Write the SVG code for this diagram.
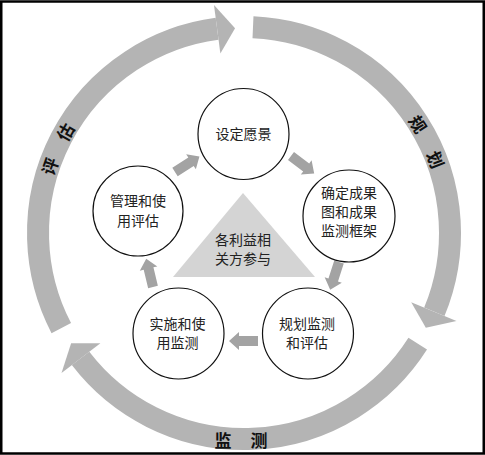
<svg xmlns="http://www.w3.org/2000/svg" width="485" height="455" viewBox="0 0 485 455">
<style>
.ring{fill:none;stroke:#b4b4b4;stroke-width:22;stroke-linecap:butt}
.head{fill:#b4b4b4}
.node{fill:#fff;stroke:#111;stroke-width:1.2}
.t{font-family:"Noto Sans CJK SC","Noto Sans",sans-serif;font-size:14px;fill:#222;text-anchor:middle;dominant-baseline:central}
.lbl{font-family:"Noto Sans CJK SC","Noto Sans",sans-serif;font-size:17px;font-weight:bold;fill:#111;text-anchor:middle;dominant-baseline:central}
.sa{fill:#a3a3a3}
</style>
<defs>
<path id="arr" d="M0,-5 H19 V-9 L29,0 L19,9 V5 H0 Z"/>
</defs>
<rect x="1.25" y="1.5" width="482.5" height="452" fill="#fff" stroke="#000" stroke-width="2.5"/>
<g id="cycle">
<path class="ring" d="M252.99,27.20 A206,206 0 0 1 434.32,311.83"/>
<polygon class="head" points="456.49,321.02 425.84,327.66 411.22,302.27"/>
<path class="ring" d="M417.74,343.68 A206,206 0 0 1 80.57,358.40"/>
<polygon class="head" points="61.53,373.01 71.11,343.15 100.40,343.19"/>
<path class="ring" d="M61.28,328.12 A206,206 0 0 1 217.11,28.76"/>
<polygon class="head" points="213.98,4.97 235.06,28.19 220.37,53.55"/>
<text class="lbl" transform="translate(418.7,123.8) rotate(58)">规</text>
<text class="lbl" transform="translate(436.3,159.2) rotate(69)">划</text>
<text class="lbl" transform="translate(49.2,165.9) rotate(-71)">评</text>
<text class="lbl" transform="translate(64.7,131.6) rotate(-60.5)">估</text>
<text class="lbl" x="223" y="439">监</text>
<text class="lbl" x="259" y="439">测</text>
</g>
<g id="stakeholders">
<polygon points="243,193 173,277 315,277" fill="#d4d4d4"/>
<text class="t" x="243" y="239">各利益相</text>
<text class="t" x="243" y="258">关方参与</text>
</g>
<g id="connectors">
<use href="#arr" class="sa" transform="translate(175,172) rotate(-32.6)"/>
<use href="#arr" class="sa" transform="translate(291,156) rotate(36.9)"/>
<use href="#arr" class="sa" transform="translate(339,262) rotate(107.7)"/>
<use href="#arr" class="sa" transform="translate(258,341) rotate(180)"/>
<use href="#arr" class="sa" transform="translate(153,287) rotate(-103.5)"/>
</g>
<g id="n1">
<circle class="node" cx="243.5" cy="134" r="45.5"/>
<text class="t" x="243.5" y="133">设定愿景</text>
</g>
<g id="n2">
<circle class="node" cx="349" cy="216" r="46"/>
<text class="t" x="349" y="192">确定成果</text>
<text class="t" x="349" y="211">图和成果</text>
<text class="t" x="349" y="230">监测框架</text>
</g>
<g id="n3">
<circle class="node" cx="308" cy="333.5" r="45.5"/>
<text class="t" x="307" y="323">规划监测</text>
<text class="t" x="307" y="342">和评估</text>
</g>
<g id="n4">
<circle class="node" cx="178.5" cy="333.5" r="45.5"/>
<text class="t" x="177.5" y="323">实施和使</text>
<text class="t" x="177.5" y="342">用监测</text>
</g>
<g id="n5">
<circle class="node" cx="138" cy="211" r="45"/>
<text class="t" x="138" y="200">管理和使</text>
<text class="t" x="138" y="220">用评估</text>
</g>
</svg>
